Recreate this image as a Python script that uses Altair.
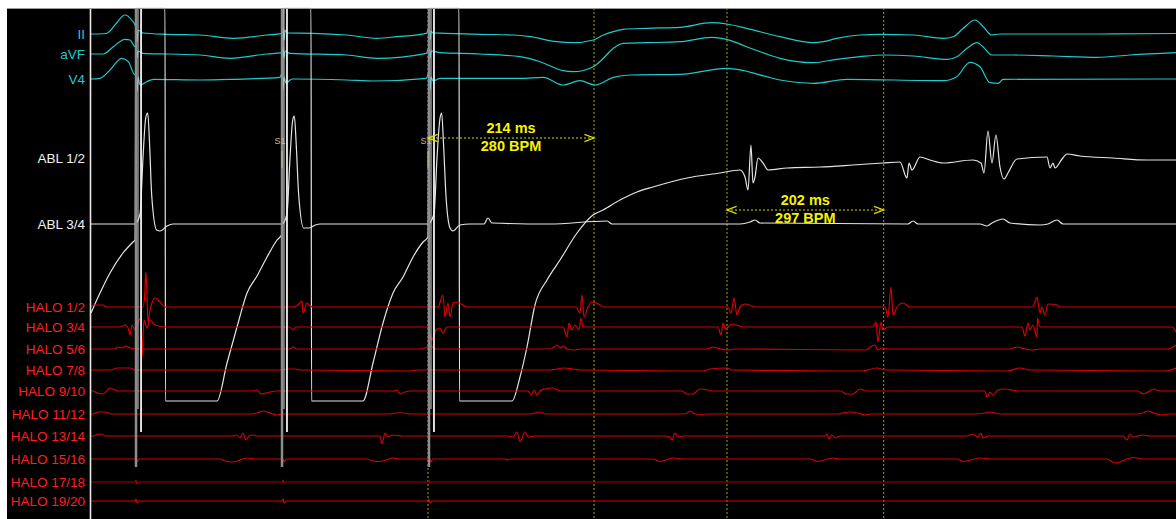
import altair as alt
import pandas as pd

# Sweep window in ms and vertical display range (display units, 1 unit = 1 px on screen)
T_MIN, T_MAX = -108.3, 1398.6
Y_MIN, Y_MAX = 0, 511

CHANNELS = ["II", "aVF", "V4", "ABL 1/2", "ABL 3/4",
            "HALO 1/2", "HALO 3/4", "HALO 5/6", "HALO 7/8", "HALO 9/10",
            "HALO 11/12", "HALO 13/14", "HALO 15/16", "HALO 17/18", "HALO 19/20"]
BASELINES = [485, 465, 440, 361, 295, 212, 192, 170, 149, 128, 105, 83, 60, 37, 18]

# ---- surface ECG: (time ms, amplitude) ----
II = [(0, 0), (19.8, 0.5), (24.5, 3), (33, 11), (43.8, 19), (52.4, 14), (56.7, 9),
      (58, 6), (59.3, -8), (60.6, 4), (67, 1), (97.6, -0.3), (140.5, -1), (183.4, -4.3),
      (226.6, -1), (246.2, 0.7), (247.5, 6), (248.8, -6), (250.1, 4), (252.6, 1),
      (286.2, 0.7), (329.5, -1), (368.3, -4.3), (394.1, -2.7), (432.3, 0.7),
      (435.7, 6), (437, -6), (438.3, 3), (440.8, 1), (456.3, 0.7), (501.4, -0.3),
      (544.4, -1), (565.9, -2.7), (600.3, -7.7), (621.7, -8.7), (647.5, -6), (660.4, -1),
      (673.3, 2.3), (686.1, 4.7), (716.3, 5.7), (759.2, 6.7), (800.1, 11.3), (819.4, 10),
      (845.2, 5.7), (888.2, -2.7), (931.1, -8.7), (944, -7.7), (961.2, -4.3), (991.2, -1),
      (1017, -0.3), (1060, -1), (1098.6, -4.3), (1111.5, -2.7), (1124.4, 5.7),
      (1139.5, 14), (1150.2, 7.3), (1161, -1), (1171.7, 0), (1300.6, 0), (1398.6, 0.5)]

AVF = [(0, 0), (15.9, 0), (28.7, 7.3), (43.8, 14.7), (50.3, 14), (56.7, 7.3),
       (58, 8), (59.3, -4), (60.6, 3), (67, 0.7), (97.6, 0), (140.5, -1), (179.2, -4.3),
       (226.5, 0), (246.2, 1.3), (247.5, 7), (248.8, -4), (250.1, 3), (256.5, 0.7),
       (329.6, -1), (368.3, -4.3), (432.3, 0.7), (435.7, 7), (437, -4), (438.3, 3),
       (449.9, 1.3), (501.4, 0), (553, -2.7), (578.8, -7.7), (608.4, -16.7), (621.7, -17.7),
       (647.5, -12.7), (660.4, -4.3), (673.3, 5.7), (686.1, 10.7), (716.3, 11.3),
       (759.2, 12.3), (800.1, 16.7), (819.4, 14.7), (845.2, 7.3), (888.2, -4.3),
       (931.1, -8.7), (961.2, -5.3), (991.2, -2.7), (1021.3, -1), (1060, -2),
       (1103.5, -5.3), (1116.3, -2.7), (1129.2, 5.7), (1142.1, 11.3), (1149.8, 7.3),
       (1161, -1), (1188.9, -1), (1240.1, -2), (1296.7, -3.3), (1339.3, -1), (1398.6, 1.3)]

V4 = [(0, 0), (11.6, 0.7), (24.5, 9), (39.6, 20.7), (48.1, 17.3), (56.7, 4),
      (58, 7), (59.3, -13), (60.6, 2), (63.2, -6), (71.8, -2.7), (80.3, -0.3),
      (140.5, -1), (183.4, -0.3), (243.6, 1.7), (246.2, 6), (247.5, -11), (248.8, 2),
      (251.3, -4), (259.1, 0), (329.6, -1), (363.9, -2), (432.3, 0.7), (435.7, 7),
      (437, -11), (438.3, 2), (440.8, -2), (449.9, 0.7), (553, 0.7), (583, 1.7),
      (608.4, -6), (630.3, -1.7), (649.7, -6), (673.3, 1.7), (694.8, 4), (759.2, 4.7),
      (819.4, 10.7), (832.7, 9.7), (888.2, -1), (931.1, -4.3), (974.5, -0.3),
      (1098.6, -1.7), (1115.9, 2.3), (1133, 16.7), (1145.9, 12.3), (1158.8, -3.7),
      (1169.5, -4.3), (1175.6, -0.3), (1398.6, 0)]

# ---- ablation catheter (ABL 1/2 saturates after each stimulus) ----
ABL_12 = [(0, -155), (11.6, -135), (24.5, -115), (41.2, -95), (54.1, -84), (56.7, -82),
          (58, 150), (95.4, 150), (96, -243), (162.4, -243), (175.3, -205), (188.2, -169),
          (201.1, -135), (214, -118), (226.9, -99), (239.8, -82), (246.2, -76),
          (247.5, 150), (283.6, 150), (284.3, -243), (350.6, -243), (363.5, -205),
          (376.4, -165), (389.3, -135), (402.2, -119), (415.1, -99), (428, -84), (434.4, -79),
          (435.7, 150), (474.4, 150), (475, -243), (542.7, -243), (553, -219), (562, -189),
          (572.3, -147), (587.8, -122), (604.5, -102), (626.5, -75), (647, -57), (660, -52),
          (681.9, -42), (703.8, -34), (724.4, -29), (768.2, -20), (810.8, -15), (836.6, -12),
          (843, -19), (846.9, -32), (850.7, 13), (853.3, -25), (855.9, -19), (859.8, 0),
          (866.2, -5), (872.7, -12), (897.2, -10), (939.7, -9), (982.2, -7), (1020.9, -5),
          (1042.8, -4), (1051.8, -20), (1054.4, -5), (1058.3, -12), (1068.6, 1), (1081.5, -2),
          (1098.3, -5), (1136.9, -2), (1147.2, -5), (1151.1, -15), (1156.2, 27), (1161.4, -5),
          (1166.5, 23), (1171.7, -9), (1176.9, -21), (1182, -15), (1193.6, -1), (1232.3, 1),
          (1236.2, -10), (1240.1, -5), (1242.6, -10), (1251.7, -1), (1258.1, 4), (1274.8, 2),
          (1317.4, 0), (1361, -2), (1398.6, -2)]

ABL_34 = [(0, 0), (56.7, 0), (63.2, 10), (67, 66), (70.5, 106), (73.1, 111), (75.5, 80),
          (78.2, 29), (84.6, -6), (88.9, -7), (98, -2), (105.7, 0), (246.2, 0),
          (252.6, 10), (256.5, 66), (260, 104), (262.1, 108), (264.5, 80), (267.7, 29),
          (274.2, -4), (280.6, -4), (289.1, -1), (295.2, 0), (434.4, 0),
          (442.1, 10), (446, 66), (449.9, 106), (452, 111), (454.4, 80), (457.5, 29),
          (462.8, -4), (466.6, -7), (475.6, -1), (488.5, 0), (506.6, 0), (511.7, 6),
          (516.9, 1), (590.4, 0), (665.1, 3), (671.6, 0), (836.6, 0), (849.5, 2), (855.9, 4),
          (862.3, 1), (1053.1, 0), (1059.6, 3), (1066, 0), (1145.9, 0), (1154.9, -2),
          (1161.4, 1), (1175.6, 5), (1184.6, 1), (1223.3, -1), (1233.6, 0), (1245.2, 4),
          (1253, 0), (1398.6, 0)]

# ---- halo catheter bipoles ----
HALO_12 = [(0, 0), (2.6, 2), (15.5, 2), (19.3, 0), (63.2, 0), (67, 0), (69.6, 17), (70.5, 35),
           (71.6, 24), (73.5, -15), (76.1, -3), (78.6, 4), (82.5, 9), (88.9, 5), (95.4, 0),
           (260.4, 0), (269.4, 4), (272, 6), (273.3, -6), (278.4, 4), (284.9, 0),
           (447.3, 0), (453.7, 12), (456.3, -10), (460.2, 4), (462.8, -10), (466.6, 4),
           (471.8, 5), (484.6, 0), (625.2, 0), (630.3, -6), (632.9, 12), (635.5, -10),
           (640.6, 0), (645.8, 5), (656.1, 2), (660, 0), (821.1, 0), (825, -6), (828.9, 9),
           (832.7, -8), (836.6, 0), (843, 3), (852, 1), (855.9, 0), (1023.5, 0), (1027.3, -10),
           (1031.2, 20), (1033.8, -8), (1038.9, 0), (1046.7, 4), (1055.7, 0), (1214.2, 0),
           (1216.8, 5), (1219.4, 10), (1223.3, -6), (1225.8, 0), (1229.7, -8), (1233.6, 3),
           (1245.2, 2), (1249.1, 0), (1398.6, 0)]

HALO_34 = [(0, 0), (37.4, 0), (43.8, 2), (47.7, -1), (50.3, -8), (52.8, 2), (56.7, -3),
           (60.6, 5), (64.5, 9), (65.7, -30), (68.3, 7), (72.2, -1), (76.1, 7), (82.5, 2),
           (95.4, 0), (256.5, 0), (260.4, -3), (264.2, 0), (433.1, 0), (437, -8), (439.5, -13),
           (444.7, -3), (449.9, -1), (453.7, -6), (458.9, 0), (608.4, 0), (613.6, -10),
           (616.1, 4), (620, -3), (623.9, 2), (629, -3), (631.6, 9), (634.2, 0), (808.2, 0),
           (812.1, -8), (814.7, 4), (818.5, -3), (821.1, 0), (827.5, 3), (840.4, 0),
           (1008, 0), (1011.9, 5), (1014.4, -15), (1018.3, 5), (1020.9, -3), (1027.3, 0),
           (1200.1, 0), (1203.9, -9), (1207.8, 4), (1210.4, -3), (1214.2, 2), (1219.4, -10),
           (1220, 9), (1223.3, 0), (1393.5, 0), (1398.6, -5)]

HALO_56 = [(0, 0), (30.9, 0), (34.8, 2), (40, 1), (45.1, 3), (50.3, 1), (60.6, 0),
           (256.5, 0), (260.4, 2), (265.5, 0), (424.1, 0), (430.5, 1), (437, 3), (444.7, 0),
           (591.6, 0), (596.8, 2), (600.7, 4), (604.5, 1), (608.4, 3), (613.6, 0), (623.9, -1),
           (630.3, 0), (794, 0), (797.9, 1), (801.8, 2), (806.9, 1), (819.8, -1), (830.1, 0),
           (999, -1), (1004.1, 2), (1010.6, 4), (1014.4, -1), (1019.6, 1), (1027.3, 0),
           (1184.6, 0), (1188.5, 1), (1194.9, 2), (1203.9, 0), (1214.2, -1), (1223.3, 0),
           (1388.3, 0), (1398.6, 4)]

HALO_78 = [(0, 0), (24.5, 0), (34.8, 2), (50.3, 2), (58, 0), (243.6, 0), (252.6, 1),
           (264.2, 1), (269.4, 0), (411.2, -1), (421.5, 0), (591.6, 0), (600.7, 1),
           (608.4, 2), (621.3, 1), (630.3, 0), (782.4, -1), (788.9, -1), (797.9, 1),
           (819.8, 2), (826.3, 0), (984.8, -1), (993.8, -1), (1013.2, 2), (1023.5, 0),
           (1171.7, -1), (1180.7, -1), (1197.5, 2), (1210.4, 0), (1374.1, -1), (1384.4, -1),
           (1398.6, 2)]

HALO_910 = [(0, 0), (2.6, 0), (7.7, -2), (15.5, -3), (24.5, 3), (34.8, 0), (210.1, 0),
            (214, 1), (219.1, -3), (225.6, -2), (230.7, -1), (238.5, 0), (390.6, 0),
            (394.4, 1), (398.3, -3), (404.7, -1), (411.2, 0), (563.3, 0), (567.2, -4),
            (571, 1), (574.9, -4), (578.8, 0), (585.2, 2), (595.5, 3), (604.5, 0), (761.8, 0),
            (768.2, -3), (776, -3), (785, 2), (795.3, 1), (800.5, 0), (966.8, 0), (973.2, -3),
            (982.2, -3), (991.2, 2), (999, 0), (1152.4, 0), (1154.9, -6), (1158.8, -1),
            (1162.7, -4), (1169.1, 1), (1178.1, 2), (1187.2, 1), (1194.9, 0), (1349.6, 0),
            (1356, -3), (1362.5, -1), (1369, 2), (1378, 0), (1398.6, 0)]

HALO_1112 = [(0, 0), (2.6, 0), (9, 2), (18, 2), (27.1, 0), (207.5, 0), (214, 1), (221.7, 3),
             (230.7, 1), (239.8, -1), (247.5, 0), (385.4, 0), (391.9, 1), (404.7, 1),
             (411.2, 0), (565.9, 0), (572.3, 1), (578.8, 2), (586.5, 0), (763.1, 0),
             (768.2, 1), (772.1, 3), (776, 1), (785, -1), (792.7, 0), (962.9, 0), (969.3, 1),
             (978.4, 2), (987.4, 1), (997.7, -1), (1004.1, 0), (1139.4, 0), (1152.4, 1),
             (1158.8, 2), (1171.7, 0), (1349.6, 0), (1356, 1), (1362.5, 3), (1369, 1),
             (1380.6, -1), (1389.6, 0), (1398.6, 0)]

HALO_1314 = [(0, 0), (2.6, 0), (6.4, 1), (11.6, 2), (19.3, 0), (183, 0), (188.2, 1),
             (192.1, -2), (195.9, 3), (199.8, -4), (203.7, 0), (208.8, 1), (214, 0),
             (366.1, 0), (372.5, 0), (375.1, -8), (379, 3), (382.8, -1), (388, 1), (402.2, 0),
             (537.5, 0), (544, -1), (549.1, 4), (553, -6), (559.4, 4), (563.3, -1), (572.3, 0),
             (737.3, 0), (746.3, -1), (748.9, -4), (752.8, 3), (756.6, -1), (763.1, 0),
             (946.1, 0), (948.7, 2), (951.3, -3), (955.1, 1), (959, -2), (965.5, 0),
             (1129.2, 0), (1136.9, 2), (1143.3, -1), (1147.2, 3), (1149.8, -2), (1156.2, 0),
             (1330.2, 0), (1335.4, -4), (1339.3, 2), (1343.1, -1), (1356, 1), (1365, 0),
             (1398.6, 0)]

HALO_1516 = [(0, 0), (58, 0), (59.3, -3), (61.9, 0), (166.3, 0), (172.7, -2), (183, -3),
             (201.1, 1), (211.4, 0), (247.5, 0), (248.8, -3), (251.3, 0), (355.8, 0),
             (363.5, -2), (372.5, -2.5), (389.3, 1), (398.3, 0), (437, 0), (438.3, -3),
             (440.8, 0), (533.6, 0), (536.2, -1), (540.1, 0), (724.4, 0), (733.4, -2.5),
             (750.2, 1), (763.1, 0), (926.9, 0), (937.1, -2.5), (956.4, 1), (965.5, 0),
             (1116.3, 0), (1124, -2.5), (1145.9, 1), (1158.8, 0), (1309.6, 0), (1320, -4),
             (1343.1, 1.5), (1356, 0), (1398.6, 0)]

HALO_1718 = [(0, 0), (56.7, 0), (58, 2), (59.3, -2), (60.6, 0), (246.2, 0), (247.5, 2),
             (248.8, -1), (250.1, 0), (434.4, 0), (435.7, 2), (437, -1), (438.3, 0), (1398.6, 0)]

HALO_1920 = [(0, 0), (56.7, 0), (58, 2), (59.3, -2), (61.9, 0), (246.2, 0), (247.5, 2),
             (248.8, -2), (251.3, 0), (434.4, 0), (435.7, 2), (437, -2), (439.5, 0), (1398.6, 0)]

TRACES = [II, AVF, V4, ABL_12, ABL_34, HALO_12, HALO_34, HALO_56, HALO_78, HALO_910,
          HALO_1112, HALO_1314, HALO_1516, HALO_1718, HALO_1920]

# ---- pacing stimulus artifacts: time, lower end (display units), shade, width ----
ART_T = [58, 60.6, 64.5, 246.2, 248.8, 252.6, 435.7, 438.3, 442.1]
ART_LOW = [52, 110, 87, 52, 110, 87, 52, 110, 87]
ART_SHADE = ["#8e8e8e", "#cfcfcf", "#f2f2f2"] * 3
ART_WIDTH = [2.5, 1.0, 1.8] * 3

# ---- calipers ----
CAL_START = [434.4, 819.8]
CAL_MS = [214, 202]
CAL_BPM = [280, 297]
CAL_Y = [381, 309]

# stimulus markers
S1_T = [246.2, 434.4]

# ---- colours ----
ECG_COLOR, ABL_COLOR, HALO_COLOR = "#1fcaca", "#e4e4e4", "#d80000"
TRACE_COLORS = [ECG_COLOR] * 3 + [ABL_COLOR] * 2 + [HALO_COLOR] * 8 + ["#a80000", "#e00000"]
LABEL_COLORS = ["#24c6d2"] * 3 + ["#f2f2f2"] * 2 + ["#ff1e1e"] * 10
FONT = "Liberation Sans"

rows = []
for name, base, pts, col in zip(CHANNELS, BASELINES, TRACES, TRACE_COLORS):
    for i, (t, a) in enumerate(pts):
        rows.append({"channel": name, "i": i, "t": t, "y": base + a, "col": col})
traces = pd.DataFrame(rows)

labels = pd.DataFrame({"channel": CHANNELS, "y": BASELINES, "col": LABEL_COLORS})

artifacts = pd.DataFrame({"t": ART_T, "y_top": [Y_MAX] * len(ART_T), "y_low": ART_LOW,
                          "col": ART_SHADE, "w": ART_WIDTH})

calipers = pd.DataFrame({"start": CAL_START, "ms": CAL_MS, "bpm": CAL_BPM, "y": CAL_Y})
calipers["end"] = calipers["start"] + calipers["ms"]
calipers["mid"] = (calipers["start"] + calipers["end"]) / 2
calipers["ms_text"] = calipers["ms"].astype(str) + " ms"
calipers["bpm_text"] = calipers["bpm"].astype(str) + " BPM"

cursors = pd.DataFrame({"t": list(calipers["start"]) + list(calipers["end"])})

markers = pd.DataFrame({"t": S1_T, "y": [378] * len(S1_T), "y_a": [368] * len(S1_T),
                        "y_b": [351] * len(S1_T), "tag": ["S1"] * len(S1_T)})

one = pd.DataFrame({"k": [0]})

xs = alt.Scale(domain=[T_MIN, T_MAX], nice=False, zero=False)
ys = alt.Scale(domain=[Y_MIN, Y_MAX], nice=False, zero=False)
X = lambda f: alt.X(f, scale=xs, axis=None)
Y = lambda f: alt.Y(f, scale=ys, axis=None)

frame_left = alt.Chart(one).mark_rule(color="#e8e8e8", strokeWidth=1.6).encode(
    x=alt.value(83.5), y=alt.value(0), y2=alt.value(511))
frame_top = alt.Chart(one).mark_rule(color="#9a9a9a", strokeWidth=1).encode(
    x=alt.value(0), x2=alt.value(1169), y=alt.value(0.5))

cursor_layer = alt.Chart(cursors).mark_rule(color="#a6a600", strokeWidth=1, strokeDash=[2, 2]).encode(
    x=X("t:Q"), y=alt.value(0), y2=alt.value(511))

trace_layer = alt.Chart(traces).mark_line(strokeWidth=1.2, interpolate="monotone").encode(
    x=X("t:Q"), y=Y("y:Q"), detail="channel:N", order="i:Q",
    color=alt.Color("col:N", scale=None))

artifact_layer = alt.Chart(artifacts).mark_rule().encode(
    x=X("t:Q"), y=Y("y_top:Q"), y2="y_low:Q",
    color=alt.Color("col:N", scale=None),
    strokeWidth=alt.StrokeWidth("w:Q", scale=None))

marker_tick = alt.Chart(markers).mark_rule(color="#cdbb95", strokeWidth=1).encode(
    x=X("t:Q"), y=Y("y_a:Q"), y2="y_b:Q")
marker_text = alt.Chart(markers).mark_text(font=FONT, fontSize=9, color="#cdbb95", dx=-2).encode(
    x=X("t:Q"), y=Y("y:Q"), text="tag:N")

cal_line = alt.Chart(calipers).mark_rule(color="#d8d800", strokeWidth=1, strokeDash=[2, 2]).encode(
    x=X("start:Q"), x2="end:Q", y=Y("y:Q"))
cal_left = alt.Chart(calipers).mark_point(
    shape="M 2.4 -0.9 L 0 0 L 2.4 0.9", filled=False, size=64, color="#e0e000",
    strokeWidth=1.3, opacity=1).encode(x=X("start:Q"), y=Y("y:Q"))
cal_right = alt.Chart(calipers).mark_point(
    shape="M -2.4 -0.9 L 0 0 L -2.4 0.9", filled=False, size=64, color="#e0e000",
    strokeWidth=1.3, opacity=1).encode(x=X("end:Q"), y=Y("y:Q"))
cal_ms = alt.Chart(calipers).mark_text(font=FONT, fontSize=14.5, fontWeight="bold",
                                       color="#f4f400", dy=-9).encode(
    x=X("mid:Q"), y=Y("y:Q"), text="ms_text:N")
cal_bpm = alt.Chart(calipers).mark_text(font=FONT, fontSize=14.5, fontWeight="bold",
                                        color="#f4f400", dy=9).encode(
    x=X("mid:Q"), y=Y("y:Q"), text="bpm_text:N")

label_layer = alt.Chart(labels).mark_text(align="right", baseline="middle", dy=1,
                                          font=FONT, fontSize=13.5).encode(
    x=alt.value(78), y=Y("y:Q"), text="channel:N", color=alt.Color("col:N", scale=None))

chart = alt.layer(
    cursor_layer, trace_layer, artifact_layer, marker_tick, marker_text,
    cal_line, cal_left, cal_right, cal_ms, cal_bpm, label_layer, frame_left, frame_top
).properties(
    width=1169, height=511,
    padding={"left": 7, "top": 8, "right": 0, "bottom": 0},
    autosize=alt.AutoSizeParams(type="none"),
    background="white",
).configure_view(fill="black", stroke=None)

chart.save("out.html", embed_options={"renderer": "svg", "actions": False})
